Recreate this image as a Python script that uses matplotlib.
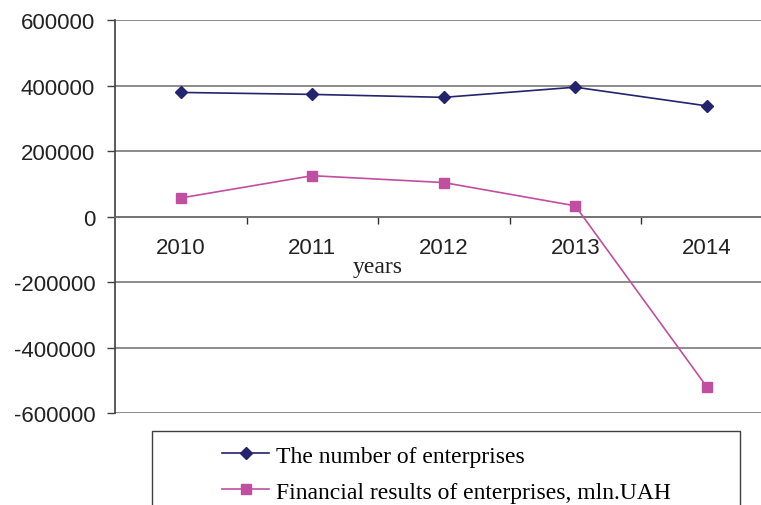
import numpy as np
import matplotlib
matplotlib.use('Agg')
import matplotlib.pyplot as plt
from matplotlib.patches import Rectangle

# values
years = ['2010', '2011', '2012', '2013', '2014']
enterprises = [379000, 373000, 364000, 395000, 338000]
financial = [57000, 125000, 104000, 33000, -519000]
yticks = [-600000, -400000, -200000, 0, 200000, 400000, 600000]

navy = '#23236e'
pink = '#c04fa2'
grid_col = '#6e6e6e'

plt.rcParams['font.family'] = ['Liberation Sans', 'DejaVu Sans']

fig = plt.figure(figsize=(7.61, 5.06), dpi=100)
ax = fig.add_axes([115 / 761, 91.7 / 506, 657.5 / 761, 393.3 / 506])

x = np.arange(len(years))
l1, = ax.plot(x, enterprises, color=navy, lw=1.2, marker='D', ms=6.5,
              label='The number of enterprises', zorder=3)
l2, = ax.plot(x, financial, color=pink, lw=1.2, marker='s', ms=7,
              label='Financial results of enterprises, mln.UAH', zorder=3)

ax.set_xlim(-0.5, len(years) - 0.5)
ax.set_ylim(-600000, 600000)
ax.set_yticks(yticks)
ax.set_yticklabels([str(v) for v in yticks])
ax.yaxis.grid(True, color=grid_col, lw=1.1)
ax.set_axisbelow(True)

ax.spines['top'].set_visible(False)
ax.spines['right'].set_visible(False)
ax.spines['left'].set_color('#404040')
ax.spines['left'].set_linewidth(1.2)
ax.spines['bottom'].set_position(('data', 0))
ax.spines['bottom'].set_color(grid_col)
ax.spines['bottom'].set_linewidth(1.1)

# boundary ticks on the zero line, category labels as minor ticks
ax.set_xticks(np.arange(len(years) - 1) + 0.5)
ax.set_xticklabels([])
ax.set_xticks(x, minor=True)
ax.set_xticklabels(years, minor=True)
ax.tick_params(axis='x', which='major', direction='out', length=5, width=1, color='#303030')
ax.tick_params(axis='x', which='minor', length=0, pad=15, labelsize=16, labelcolor='#222222')
ax.tick_params(axis='y', direction='out', length=5.8, width=1, color='#404040',
               pad=8.5, labelsize=16, labelcolor='#222222')

ax.text(1.5, -152000, 'years', ha='center', va='center', fontsize=17,
        family=['Liberation Serif'], color='#222222')

# legend box, cut off at bottom of picture
fig.patches.append(Rectangle((152 / 761, -0.05), 588 / 761, (506 - 432) / 506 + 0.05,
                             transform=fig.transFigure, fill=False,
                             edgecolor='#404040', lw=1.0))
fig.legend(handles=[l1, l2], loc='upper left', bbox_to_anchor=(222 / 761, 1 - 446 / 506),
           frameon=False, prop={'family': 'Liberation Serif', 'size': 17},
           handlelength=2.0, handletextpad=0.3, labelspacing=0.62, borderaxespad=0,
           borderpad=0, markerscale=1.0)

fig.savefig('out.png', dpi=100)
